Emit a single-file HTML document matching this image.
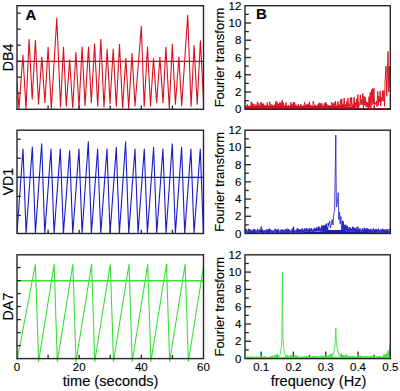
<!DOCTYPE html>
<html><head><meta charset="utf-8"><style>
html,body{margin:0;padding:0;background:#fff;width:400px;height:391px;overflow:hidden}
svg{display:block}
text{font-family:"Liberation Sans",sans-serif}
</style></head><body>
<svg width="400" height="391" viewBox="0 0 400 391">
<rect width="400" height="391" fill="#fff"/>
<clipPath id="ca1"><rect x="17" y="0" width="186.5" height="391"/></clipPath>
<g clip-path="url(#ca1)"><polyline points="17,82 19,108.4 22.9,55 26,108.4 29.1,39.2 32.2,99.3 35.4,40.6 38.5,104.2 41.8,57.1 44.9,102.8 48.1,47.3 51.3,108.4 56.8,18 60.5,107 63.5,47.3 66.3,106.3 69.6,59.8 72.7,107.7 75.9,52.2 79,107.7 82.1,47 85,105.6 88.5,47 91.3,102.8 94.6,44 97.7,106.3 100.8,39.2 104,107 107.2,49 110,103.5 113.2,49 116.3,106.3 119.5,44.4 122.6,107.7 125.8,58.2 128.7,108.4 132,53.6 135,106 141.3,26.4 144.2,106.3 147.5,47 150.5,106 153.5,58.5 156.6,102.8 159.9,57.4 163,102.8 165.9,47.3 169.3,108.4 172.3,44.2 175.4,104.2 178.9,57.1 181.7,105.6 187.7,15.1 191.1,106.3 194.1,45.6 197.2,104.2 200.4,40.9 203.5,100" fill="none" stroke="#d8101e" stroke-width="1.1" stroke-linejoin="round" /></g>
<line x1="17" y1="61.3" x2="203.5" y2="61.3" stroke="#c00c1c" stroke-width="1.3"/>
<clipPath id="ca2"><rect x="17" y="0" width="186.5" height="391"/></clipPath>
<g clip-path="url(#ca2)"><polyline points="17,233.3 23,149.1 26.1,233.3 32.33,147 35.43,233.3 41.66,143.8 44.76,233.3 50.99,149.1 54.09,233.3 60.32,149.1 63.42,233.3 69.65,150.8 72.75,233.3 78.98,149.1 82.08,233.3 88.31,141.8 91.41,233.3 97.64,149.1 100.74,233.3 106.97,149.1 110.07,233.3 116.3,147.4 119.4,233.3 125.63,141.8 128.73,233.3 134.96,149.1 138.06,233.3 144.29,149.1 147.39,233.3 153.62,147.4 156.72,233.3 162.95,149.1 166.05,233.3 172.28,143.8 175.38,233.3 181.61,147.4 184.71,233.3 190.94,149.1 194.04,233.3 200.27,149.1 203.37,233.3" fill="none" stroke="#1a1ac8" stroke-width="1.1" stroke-linejoin="round" /></g>
<line x1="17" y1="177.4" x2="203.5" y2="177.4" stroke="#1414a8" stroke-width="1.3"/>
<clipPath id="ca3"><rect x="17" y="0" width="186.5" height="391"/></clipPath>
<g clip-path="url(#ca3)"><polyline points="17,361 35.4,264.3 38.6,361.5 54.12,264.3 57.32,361.5 72.84,264.3 76.04,361.5 91.56,264.3 94.76,361.5 110.28,264.3 113.48,361.5 129,264.3 132.2,361.5 147.72,264.3 150.92,361.5 166.44,264.3 169.64,361.5 185.16,264.3 188.36,361.5 203.88,264.3 207.08,361.5" fill="none" stroke="#38e038" stroke-width="1.1" stroke-linejoin="round" /></g>
<line x1="17" y1="280.8" x2="203.5" y2="280.8" stroke="#38e038" stroke-width="1.4"/>
<g stroke="#262626" stroke-width="1.3"><line x1="245" y1="100.67" x2="248.8" y2="100.67"/><line x1="245" y1="92.03" x2="251" y2="92.03"/><line x1="245" y1="83.4" x2="248.8" y2="83.4"/><line x1="245" y1="74.77" x2="251" y2="74.77"/><line x1="245" y1="66.13" x2="248.8" y2="66.13"/><line x1="245" y1="57.5" x2="251" y2="57.5"/><line x1="245" y1="48.87" x2="248.8" y2="48.87"/><line x1="245" y1="40.23" x2="251" y2="40.23"/><line x1="245" y1="31.6" x2="248.8" y2="31.6"/><line x1="245" y1="22.97" x2="251" y2="22.97"/><line x1="245" y1="14.33" x2="248.8" y2="14.33"/><line x1="261.14" y1="109.3" x2="261.14" y2="102.3"/><line x1="277.29" y1="109.3" x2="277.29" y2="105.5"/><line x1="293.43" y1="109.3" x2="293.43" y2="102.3"/><line x1="309.58" y1="109.3" x2="309.58" y2="105.5"/><line x1="325.72" y1="109.3" x2="325.72" y2="102.3"/><line x1="341.87" y1="109.3" x2="341.87" y2="105.5"/><line x1="358.01" y1="109.3" x2="358.01" y2="102.3"/><line x1="374.16" y1="109.3" x2="374.16" y2="105.5"/><line x1="245" y1="224.89" x2="248.8" y2="224.89"/><line x1="245" y1="216.28" x2="251" y2="216.28"/><line x1="245" y1="207.68" x2="248.8" y2="207.68"/><line x1="245" y1="199.07" x2="251" y2="199.07"/><line x1="245" y1="190.46" x2="248.8" y2="190.46"/><line x1="245" y1="181.85" x2="251" y2="181.85"/><line x1="245" y1="173.24" x2="248.8" y2="173.24"/><line x1="245" y1="164.63" x2="251" y2="164.63"/><line x1="245" y1="156.02" x2="248.8" y2="156.02"/><line x1="245" y1="147.42" x2="251" y2="147.42"/><line x1="245" y1="138.81" x2="248.8" y2="138.81"/><line x1="261.14" y1="233.5" x2="261.14" y2="226.5"/><line x1="277.29" y1="233.5" x2="277.29" y2="229.7"/><line x1="293.43" y1="233.5" x2="293.43" y2="226.5"/><line x1="309.58" y1="233.5" x2="309.58" y2="229.7"/><line x1="325.72" y1="233.5" x2="325.72" y2="226.5"/><line x1="341.87" y1="233.5" x2="341.87" y2="229.7"/><line x1="358.01" y1="233.5" x2="358.01" y2="226.5"/><line x1="374.16" y1="233.5" x2="374.16" y2="229.7"/><line x1="245" y1="349.95" x2="248.8" y2="349.95"/><line x1="245" y1="341.3" x2="251" y2="341.3"/><line x1="245" y1="332.65" x2="248.8" y2="332.65"/><line x1="245" y1="324" x2="251" y2="324"/><line x1="245" y1="315.35" x2="248.8" y2="315.35"/><line x1="245" y1="306.7" x2="251" y2="306.7"/><line x1="245" y1="298.05" x2="248.8" y2="298.05"/><line x1="245" y1="289.4" x2="251" y2="289.4"/><line x1="245" y1="280.75" x2="248.8" y2="280.75"/><line x1="245" y1="272.1" x2="251" y2="272.1"/><line x1="245" y1="263.45" x2="248.8" y2="263.45"/><line x1="261.14" y1="358.6" x2="261.14" y2="351.6"/><line x1="277.29" y1="358.6" x2="277.29" y2="354.8"/><line x1="293.43" y1="358.6" x2="293.43" y2="351.6"/><line x1="309.58" y1="358.6" x2="309.58" y2="354.8"/><line x1="325.72" y1="358.6" x2="325.72" y2="351.6"/><line x1="341.87" y1="358.6" x2="341.87" y2="354.8"/><line x1="358.01" y1="358.6" x2="358.01" y2="351.6"/><line x1="374.16" y1="358.6" x2="374.16" y2="354.8"/></g>
<polygon points="245,109.3 245,105.67 246,105.67 247,105.67 248,105.67 249,105.67 250,105.67 251,105.67 252,105.67 253,105.67 254,105.67 255,105.67 256,105.67 257,105.67 258,105.67 259,105.67 260,105.67 261,105.67 262,105.67 263,105.67 264,105.67 265,105.67 266,105.67 267,105.67 268,105.67 269,105.67 270,105.67 271,105.67 272,105.67 273,105.67 274,105.67 275,105.67 276,105.67 277,105.67 278,105.67 279,105.67 280,105.67 281,105.67 282,105.67 283,105.67 284,105.67 285,105.67 286,105.67 287,105.67 288,105.67 289,105.67 290,105.67 291,105.67 292,105.67 293,105.67 294,105.67 295,105.67 296,105.67 297,105.67 298,105.67 299,105.67 300,105.67 301,105.67 302,105.67 303,105.67 304,105.67 305,105.67 306,105.67 307,105.67 308,105.67 309,105.67 310,105.67 311,105.67 312,105.67 313,105.67 314,105.67 315,105.67 316,105.67 317,105.67 318,105.67 319,105.67 320,105.67 321,105.67 322,105.67 323,105.67 324,105.67 325,105.67 326,105.67 327,105.67 328,105.67 329,105.67 330,105.67 331,105.67 332,105.67 333,105.67 334,105.67 335,105.67 336,105.67 337,105.67 338,105.67 339,105.67 340,105.67 341,105.79 342,105.91 343,106.02 344,106.14 345,106.26 346,106.37 347,106.49 348,106.61 349,106.72 350,106.84 351,106.96 352,107.07 353,107.19 354,107.31 355,107.42 356,107.54 357,107.66 358,107.77 359,107.89 360,108 361,108 362,108 363,108 364,108 365,108 366,108 367,108 368,108 369,108 370,108 371,108 372,108 373,108 374,108 375,108 376,108 377,108 378,108 379,108 380,108 381,108 382,108 383,108 384,108 385,108 386,108 387,108 388,108 389,108 390,108 390.3,109.3" fill="#d8101e"/>
<polyline points="245,106.51 245.62,108.11 246.24,105.84 246.86,107.99 247.48,104.35 248.1,109.04 248.72,107.33 249.34,107.53 249.96,106.38 250.58,108.71 251.2,101.82 251.82,108.25 252.44,102.92 253.06,108.23 253.68,104.22 254.3,104.63 254.92,104.23 255.54,107.46 256.16,104.91 256.78,107.7 257.4,101.7 258.02,108.22 258.64,103.4 259.26,105.99 259.88,106.13 260.5,109.11 261.12,102.63 261.74,108.23 262.36,103.63 262.98,107.41 263.6,103.65 264.22,107.32 264.84,105.6 265.46,107.56 266.08,105.31 266.7,107.29 267.32,102.48 267.94,108.97 268.56,106.86 269.18,105.42 269.8,101.82 270.42,108.28 271.04,104.16 271.66,108.56 272.28,104.9 272.9,107.48 273.52,105.8 274.14,107.98 274.76,104.4 275.38,107.32 276,101.04 276.62,107.27 277.24,102.54 277.86,107.14 278.48,103.81 279.1,108.83 279.72,102.48 280.34,107.19 280.96,102.15 281.58,107.99 282.2,100.05 282.82,108.73 283.44,102.65 284.06,107.98 284.68,106.09 285.3,109.03 285.92,102.47 286.54,107.11 287.16,106.98 287.78,107.5 288.4,105.38 289.02,108.85 289.64,106.02 290.26,107.56 290.88,102.28 291.5,109.07 292.12,104.08 292.74,109.07 293.36,103.36 293.98,108.47 294.6,102.18 295.22,107.11 295.84,104.76 296.46,107.06 297.08,105.9 297.7,109 298.32,104.13 298.94,108.7 299.56,106.47 300.18,108.3 300.8,104.04 301.42,108.83 302.04,107.09 302.66,107.32 303.28,105.85 303.9,107.13 304.52,101.96 305.14,108.36 305.76,104.97 306.38,108.05 307,103.76 307.62,107.89 308.24,104.32 308.86,107.83 309.48,101.57 310.1,108.07 310.72,105.12 311.34,107.61 311.96,106.22 312.58,108.51 313.2,101.24 313.82,103.88 314.44,104.35 315.06,109.13 315.68,105.19 316.3,107.9 316.92,107.1 317.54,107.82 318.16,103.76 318.78,109.03 319.4,102.79 320.02,108.14 320.64,103.41 321.26,108.39 321.88,103.2 322.5,107.55 323.12,107.08 323.74,107.86 324.36,103.4 324.98,106.29 325.6,106.08 326.22,108.16 326.84,103.96 327.46,108.45 328.08,105.43 328.7,108.47 329.32,105.4 329.94,107.84 330.56,105.72 331.18,108.28 331.8,102.14 332.42,109.08 333.04,103.54 333.66,107.31 334.28,102.45 334.9,108.55 335.52,101.06 336.14,108.48 336.76,105.7 337.38,105.55 338,101.47 338.62,108.82 339.24,104.49 339.86,108.11 340.48,99.54 341.1,107.75 341.72,98.99 342.34,108.55 342.96,103.89 343.58,106.97 344.2,98.01 344.82,107.56 345.44,104.53 346.06,108.66 346.68,101.54 347.3,108.4 347.92,98.17 348.54,106.06 349.16,104.56 349.78,108.04 350.4,97.7 351.02,106.66 351.64,97.48 352.26,107.73 352.88,104.7 353.5,107.91 354.12,97.18 354.74,107.97 355.36,102.47 355.98,107.36 356.6,98.93 357.22,107.35 357.84,94.65 358.46,108.37 359.08,105.09 359.7,105.02 360.32,94.78 360.94,104.76 361.56,99.5 362.18,104.85 362.8,93.57 363.42,108.02 364.04,96.16 364.66,105.22 365.28,97.12 365.9,106.56 366.52,101.81 367.14,107.31 367.76,102.24 368.38,108.61 369,96.69 369.62,107.42 370.24,92.22 370.86,108.68 371.48,89.72 372.1,104.95 372.72,88.57 373.34,103.58 373.96,88.35 374.58,105.35 375.2,102.98 375.82,104.12 376.44,100.92 377.06,106.87 377.68,91.29 378.3,105.22 378.92,95.95 379.54,102.11 380.16,90.92 380.78,106.12 381.4,97.2 382.02,101.28 382.64,90.4 383.26,101.04 383.88,90.82 384.5,106.22 385.12,80.85 386,66.15 386.8,96.35 388,51.48 388.8,92.04 389.4,66.15 390.2,87.72" fill="none" stroke="#d8101e" stroke-width="0.95" stroke-linejoin="round" />
<polygon points="245,233.5 245,232.32 246,232.31 247,232.31 248,232.31 249,232.31 250,232.31 251,232.3 252,232.3 253,232.3 254,232.3 255,232.3 256,232.29 257,232.29 258,232.29 259,232.29 260,232.29 261,232.29 262,232.28 263,232.28 264,232.28 265,232.28 266,232.28 267,232.27 268,232.27 269,232.27 270,232.27 271,232.27 272,232.26 273,232.26 274,232.26 275,232.26 276,232.26 277,232.25 278,232.25 279,232.25 280,232.25 281,232.25 282,232.24 283,232.24 284,232.24 285,232.24 286,232.24 287,232.23 288,232.23 289,232.23 290,232.23 291,232.23 292,232.22 293,232.22 294,232.22 295,232.22 296,232.22 297,232.21 298,232.21 299,232.21 300,232.21 301,232.18 302,232.16 303,232.14 304,232.11 305,232.09 306,232.07 307,232.04 308,232.02 309,231.99 310,231.97 311,231.95 312,231.92 313,231.9 314,231.87 315,231.85 316,231.83 317,231.8 318,231.78 319,231.69 320,231.59 321,231.5 322,231.41 323,231.32 324,231.22 325,231.13 326,230.77 327,230.42 328,230.06 329,230.06 330,230.06 331,230.06 332,230.06 333,230.06 334,230.06 335,230.06 336,230.06 337,230.06 338,230.06 339,230.06 340,230.06 341,230.06 342,230.06 343,230.06 344,230.49 345,230.92 346,231.35 347,231.42 348,231.49 349,231.56 350,231.63 351,231.71 352,231.78 353,231.85 354,231.92 355,231.99 356,232 357,232.01 358,232.02 359,232.03 360,232.04 361,232.05 362,232.06 363,232.07 364,232.08 365,232.08 366,232.09 367,232.1 368,232.11 369,232.12 370,232.13 371,232.14 372,232.15 373,232.16 374,232.17 375,232.18 376,232.19 377,232.19 378,232.2 379,232.21 380,232.22 381,232.23 382,232.24 383,232.25 384,232.26 385,232.27 386,232.28 387,232.29 388,232.3 389,232.3 390,232.31 390.3,233.5" fill="#1a1ac8"/>
<polyline points="245,229.5 245.42,232.03 245.84,229.15 246.26,231.7 246.68,229.25 247.1,231.73 247.52,231.14 247.94,232.49 248.36,228.84 248.78,232.18 249.2,228.92 249.62,233.07 250.04,229.81 250.46,232.85 250.88,229.63 251.3,232.3 251.72,231.22 252.14,232.9 252.56,230.26 252.98,231.72 253.4,229.15 253.82,232.99 254.24,229.08 254.66,233.03 255.08,229.44 255.5,233.05 255.92,231.3 256.34,231.79 256.76,230.44 257.18,232.89 257.6,228.7 258.02,231.78 258.44,230.2 258.86,231.63 259.28,229.59 259.7,232.11 260.12,230.44 260.54,231.66 260.96,229.25 261.38,231.61 261.8,228.84 262.22,232.75 262.64,229.99 263.06,232.97 263.48,230.61 263.9,233.14 264.32,230.14 264.74,232.22 265.16,231.25 265.58,232.09 266,230.03 266.42,232.72 266.84,228.95 267.26,232.43 267.68,230.08 268.1,232.43 268.52,229.17 268.94,233.16 269.36,228.62 269.78,233.21 270.2,229.06 270.62,231.79 271.04,231.11 271.46,231.89 271.88,229.93 272.3,232.25 272.72,231.17 273.14,233.17 273.56,230.44 273.98,231.59 274.4,230.39 274.82,231.94 275.24,228.66 275.66,231.61 276.08,229.96 276.5,232.63 276.92,229.51 277.34,231.9 277.76,230.68 278.18,231.94 278.6,228.91 279.02,231.75 279.44,230.98 279.86,231.59 280.28,230.73 280.7,232.65 281.12,229.29 281.54,231.64 281.96,229.94 282.38,231.62 282.8,229.43 283.22,232.7 283.64,229.99 284.06,232.93 284.48,230.76 284.9,232.98 285.32,229.09 285.74,231.48 286.16,230.45 286.58,233.16 287,228.46 287.42,232.3 287.84,229.74 288.26,232.82 288.68,229.28 289.1,231.78 289.52,229.6 289.94,232.49 290.36,230.84 290.78,231.61 291.2,230.95 291.62,232.36 292.04,228.72 292.46,233.01 292.88,228.94 293.3,231.54 293.72,229.16 294.14,231.83 294.56,230.61 294.98,232.46 295.4,230.45 295.82,231.73 296.24,229.99 296.66,232.43 297.08,228.36 297.5,231.71 297.92,228.4 298.34,232.42 298.76,229.46 299.18,231.92 299.6,229.48 300.02,232.72 300.44,229.64 300.86,232.97 301.28,229.65 301.7,231.39 302.12,228.22 302.54,232.04 302.96,229.21 303.38,232.58 303.8,230.45 304.22,232.69 304.64,228.38 305.06,231.5 305.48,229.41 305.9,231.64 306.32,228.25 306.74,231.8 307.16,228.45 307.58,231.64 308,229.23 308.42,231.73 308.84,229.44 309.26,232.17 309.68,227.97 310.1,231.71 310.52,229.28 310.94,231.13 311.36,228.14 311.78,231.91 312.2,230.5 312.62,231.96 313.04,229.28 313.46,231.66 313.88,228.5 314.3,231.31 314.72,227.88 315.14,231.32 315.56,228.76 315.98,231.66 316.4,227.48 316.82,231.2 317.24,228.64 317.66,231.14 318.08,226.94 318.5,231.44 318.92,226.34 319.34,230.66 319.76,227.49 320.18,231.69 320.6,228.74 321.02,230.76 321.44,225.54 321.86,231.7 322.28,226.09 322.7,230.9 323.12,225.68 323.54,232.52 323.96,225.21 324.38,231.16 324.8,225.39 325.22,231.57 325.64,224.72 326.06,229.97 326.48,223.63 326.9,229.82 327.32,227.17 327.74,232.08 328.16,223.03 328.5,226 329.7,221 330.5,228 331.3,224 332.2,219.6 333,225 333.8,214 334.6,210.4 335.2,175.7 335.8,135.1 336.1,176 336.4,207 337.3,203 338.2,192.7 338.8,219.6 339.5,212 340.2,224 340.9,216.5 341.6,230.5 342.02,228.19 342.44,220.72 342.86,230.79 343.28,221.19 343.7,230.05 344.12,224.92 344.54,232.39 344.96,224.84 345.38,231.11 345.8,224.7 346.22,230.18 346.64,226.44 347.06,232.06 347.48,225.66 347.9,233.09 348.32,229.01 348.74,231.56 349.16,227.02 349.58,232.75 350,227.18 350.42,230.84 350.84,228.25 351.26,232.07 351.68,229 352.1,232.46 352.52,226.83 352.94,232.29 353.36,227.1 353.78,231.14 354.2,228.29 354.62,232.64 355.04,227.52 355.46,232.16 355.88,229.02 356.3,232.53 356.72,227.57 357.14,232.18 357.56,229.47 357.98,232.22 358.4,230.1 358.82,231.92 359.24,229.03 359.66,232.61 360.08,228.17 360.5,231.52 360.92,230.73 361.34,232.13 361.76,229.62 362.18,231.33 362.6,228.25 363.02,232.72 363.44,229.68 363.86,232.91 364.28,227.84 364.7,232.63 365.12,228.76 365.54,232.28 365.96,228.69 366.38,232.03 366.8,228.48 367.22,232.99 367.64,228.47 368.06,232.64 368.48,229.05 368.9,232.58 369.32,229.73 369.74,232.21 370.16,229.28 370.58,232.54 371,228.62 371.42,232.11 371.84,230.77 372.26,232.75 372.68,229.37 373.1,231.51 373.52,228.39 373.94,232.21 374.36,230.96 374.78,231.79 375.2,229.52 375.62,232.17 376.04,228.86 376.46,232.08 376.88,229.42 377.3,231.58 377.72,229.7 378.14,232.53 378.56,228.64 378.98,232.89 379.4,229.98 379.82,231.76 380.24,230.78 380.66,231.76 381.08,229.06 381.5,232.48 381.92,230.08 382.34,231.88 382.76,228.66 383.18,233 383.6,229.62 384.02,232.3 384.44,229.6 384.86,232.68 385.28,230.56 385.7,232.25 386.12,228.98 386.54,233.14 386.96,230.36 387.38,231.87 387.8,229.07 388.22,232.14 388.64,231.14 389.06,232.05 389.48,228.77 389.9,231.6" fill="none" stroke="#1a1ac8" stroke-width="0.8" stroke-linejoin="round" />
<polygon points="245,358.6 245,357.84 246,357.84 247,357.83 248,357.82 249,357.82 250,357.81 251,357.81 252,357.8 253,357.79 254,357.79 255,357.78 256,357.78 257,357.77 258,357.76 259,357.76 260,357.75 261,357.75 262,357.74 263,357.73 264,357.73 265,357.72 266,357.72 267,357.71 268,357.7 269,357.7 270,357.69 271,357.59 272,357.49 273,357.39 274,357.29 275,357.19 276,357.09 277,357.09 278,357.09 279,357.09 280,357.09 281,357.09 282,357.09 283,357.09 284,357.09 285,357.09 286,357.09 287,357.09 288,357.09 289,357.09 290,357.09 291,357.15 292,357.21 293,357.27 294,357.33 295,357.39 296,357.45 297,357.51 298,357.57 299,357.63 300,357.69 301,357.69 302,357.68 303,357.67 304,357.67 305,357.66 306,357.66 307,357.65 308,357.64 309,357.64 310,357.63 311,357.63 312,357.62 313,357.61 314,357.61 315,357.6 316,357.59 317,357.59 318,357.58 319,357.58 320,357.57 321,357.56 322,357.56 323,357.55 324,357.55 325,357.54 326,357.39 327,357.24 328,357.09 329,356.93 330,356.78 331,356.78 332,356.78 333,356.78 334,356.78 335,356.78 336,356.78 337,356.78 338,356.78 339,356.78 340,356.78 341,356.78 342,356.78 343,356.78 344,356.89 345,357 346,357.11 347,357.22 348,357.32 349,357.43 350,357.54 351,357.54 352,357.54 353,357.54 354,357.54 355,357.54 356,357.54 357,357.54 358,357.54 359,357.54 360,357.54 361,357.54 362,357.54 363,357.54 364,357.54 365,357.54 366,357.54 367,357.54 368,357.54 369,357.54 370,357.54 371,357.54 372,357.54 373,357.54 374,357.54 375,357.54 376,357.54 377,357.54 378,357.54 379,357.54 380,357.54 381,357.41 382,357.29 383,357.16 384,357.04 385,356.91 386,356.78 387,355.88 388,354.97 389,353.76 390,353.34 390.3,358.6" fill="#38e038" opacity="0.8"/>
<polyline points="245,356.93 245.45,358.1 245.9,357.32 246.35,357.72 246.8,357.58 247.25,357.99 247.7,356.48 248.15,358.32 248.6,356.79 249.05,357.89 249.5,357.46 249.95,358.08 250.4,356.61 250.85,358.02 251.3,356.58 251.75,358.25 252.2,357.11 252.65,358.28 253.1,356.78 253.55,357.62 254,356.68 254.45,357.74 254.9,356.89 255.35,357.75 255.8,357.28 256.25,358.12 256.7,356.55 257.15,357.76 257.6,356.81 258.05,358.29 258.5,357 258.95,358.18 259.4,356.97 259.85,357.67 260.3,357.08 260.75,357.6 261.2,356.27 261.65,358.31 262.1,356.81 262.55,357.93 263,357.39 263.45,357.98 263.9,356.2 264.35,358.25 264.8,356.51 265.25,358.24 265.7,356.52 266.15,357.55 266.6,357 267.05,358.34 267.5,357.2 267.95,357.86 268.4,357.36 268.85,358.27 269.3,356.57 269.75,357.51 270.2,356.61 270.65,357.93 271.1,356.12 271.55,358.2 272,355.98 272.45,358.07 272.9,355.72 273.35,357.05 273.8,356.68 274.25,357.48 274.7,355.29 275.15,357.98 275.6,355.78 276.05,356.66 276.5,354.28 276.95,357.98 277.4,354.79 277.85,356.73 278.3,355.79 278.75,357.24 279.2,356.39 280,355 281.2,348 281.8,339.4 282.4,272.3 283,339.4 284,350 285.2,355 285.95,357.67 286.4,355.33 286.85,357.84 287.3,355.31 287.75,357.68 288.2,356.22 288.65,357.21 289.1,356.17 289.55,356.98 290,356.47 290.45,357.01 290.9,354.75 291.35,357.48 291.8,355.06 292.25,357.86 292.7,355.15 293.15,357.66 293.6,356.2 294.05,357.01 294.5,355.98 294.95,357.8 295.4,355.4 295.85,357.84 296.3,355.8 296.75,358.1 297.2,355.71 297.65,358.03 298.1,357.09 298.55,357.34 299,356.91 299.45,357.44 299.9,356 300.35,357.79 300.8,357.36 301.25,358.28 301.7,356.94 302.15,357.98 302.6,356.38 303.05,357.44 303.5,356.7 303.95,358.2 304.4,356.42 304.85,358.2 305.3,357.12 305.75,357.81 306.2,356.23 306.65,358.27 307.1,356.52 307.55,357.66 308,356.12 308.45,357.96 308.9,355.97 309.35,358.16 309.8,356.15 310.25,357.57 310.7,355.95 311.15,357.84 311.6,357.04 312.05,358.27 312.5,356.35 312.95,358.15 313.4,356.2 313.85,358.23 314.3,356.01 314.75,358.09 315.2,357.24 315.65,358.14 316.1,356.39 316.55,357.75 317,356.48 317.45,358.13 317.9,356.33 318.35,357.34 318.8,356.25 319.25,357.34 319.7,357.14 320.15,357.28 320.6,355.78 321.05,357.74 321.5,356.23 321.95,357.74 322.4,355.72 322.85,358.23 323.3,356.04 323.75,357.73 324.2,356.53 324.65,357.53 325.1,355.88 325.55,358.16 326,355.56 326.45,357.65 326.9,355.58 327.35,357.29 327.8,356.39 328.25,357.22 328.7,355.24 329.15,356.63 329.6,355.35 330.05,356.59 330.5,353.98 330.95,356.95 331.4,353.66 331.85,358.02 332.3,354.28 333,355 334.2,350 335.2,343 335.8,328.2 336.4,343 337.6,350 339.2,355.5 339.95,356.35 340.4,354.29 340.85,356.31 341.3,353.44 341.75,356.57 342.2,355.67 342.65,357.45 343.1,355.26 343.55,356.73 344,355.56 344.45,357.76 344.9,355.99 345.35,357.97 345.8,354.38 346.25,356.75 346.7,355.66 347.15,357.2 347.6,355.69 348.05,357.57 348.5,356.07 348.95,357.52 349.4,356.51 349.85,358.02 350.3,356.19 350.75,358.09 351.2,356.3 351.65,357.3 352.1,357.12 352.55,358.19 353,355.81 353.45,358.24 353.9,356.6 354.35,357.39 354.8,356.07 355.25,358.06 355.7,357.01 356.15,358.01 356.6,356.52 357.05,357.45 357.5,355.6 357.95,357.46 358.4,355.69 358.85,357.31 359.3,355.72 359.75,357.32 360.2,355.61 360.65,358.2 361.1,356.49 361.55,358.04 362,356.07 362.45,357.78 362.9,356.44 363.35,357.41 363.8,356.36 364.25,358.08 364.7,356.56 365.15,357.81 365.6,356.06 366.05,357.69 366.5,356.3 366.95,358.1 367.4,356.36 367.85,357.95 368.3,356.75 368.75,357.72 369.2,356.72 369.65,357.54 370.1,355.99 370.55,358.15 371,356.04 371.45,357.94 371.9,356.29 372.35,357.65 372.8,355.86 373.25,357.36 373.7,355.9 374.15,358.07 374.6,356.15 375.05,357.94 375.5,357.13 375.95,357.71 376.4,356.26 376.85,357.38 377.3,356.48 377.75,357.41 378.2,356.19 378.65,358.19 379.1,355.92 379.55,358 380,356.17 380.45,358.2 380.9,357.01 381.35,357.12 381.8,356.73 382.25,358.02 382.7,356.18 383.15,358.04 383.6,354.58 384.05,356.59 384.5,354.62 384.95,357.45 385.4,353.84 385.85,357.18 386.3,355.11 386.75,356.16 387.2,352.63 387.65,356.76 388.1,351.11 388.55,355.72 389,350.06 389.45,353.76 389.9,344.25" fill="none" stroke="#38e038" stroke-width="0.85" stroke-linejoin="round" />
<rect x="17" y="5.7" width="186.5" height="103.6" fill="none" stroke="#262626" stroke-width="1.4"/>
<rect x="245" y="5.7" width="145.3" height="103.6" fill="none" stroke="#262626" stroke-width="1.4"/>
<rect x="17" y="130.2" width="186.5" height="103.3" fill="none" stroke="#262626" stroke-width="1.4"/>
<rect x="245" y="130.2" width="145.3" height="103.3" fill="none" stroke="#262626" stroke-width="1.4"/>
<rect x="17" y="254.8" width="186.5" height="103.8" fill="none" stroke="#262626" stroke-width="1.4"/>
<rect x="245" y="254.8" width="145.3" height="103.8" fill="none" stroke="#262626" stroke-width="1.4"/>
<g stroke="#262626" stroke-width="1.3"><line x1="17" y1="13.2" x2="20.8" y2="13.2"/><line x1="17" y1="29.2" x2="20.8" y2="29.2"/><line x1="17" y1="45.2" x2="20.8" y2="45.2"/><line x1="17" y1="61.2" x2="20.8" y2="61.2"/><line x1="17" y1="77.2" x2="20.8" y2="77.2"/><line x1="17" y1="93.2" x2="20.8" y2="93.2"/><line x1="48.08" y1="109.3" x2="48.08" y2="105.5"/><line x1="79.17" y1="109.3" x2="79.17" y2="105.5"/><line x1="110.25" y1="109.3" x2="110.25" y2="105.5"/><line x1="141.33" y1="109.3" x2="141.33" y2="105.5"/><line x1="172.42" y1="109.3" x2="172.42" y2="105.5"/><line x1="17" y1="139.2" x2="20.8" y2="139.2"/><line x1="17" y1="158.25" x2="20.8" y2="158.25"/><line x1="17" y1="177.3" x2="20.8" y2="177.3"/><line x1="17" y1="196.35" x2="20.8" y2="196.35"/><line x1="17" y1="215.4" x2="20.8" y2="215.4"/><line x1="48.08" y1="233.5" x2="48.08" y2="229.7"/><line x1="79.17" y1="233.5" x2="79.17" y2="229.7"/><line x1="110.25" y1="233.5" x2="110.25" y2="229.7"/><line x1="141.33" y1="233.5" x2="141.33" y2="229.7"/><line x1="172.42" y1="233.5" x2="172.42" y2="229.7"/><line x1="17" y1="267.6" x2="20.8" y2="267.6"/><line x1="17" y1="280.6" x2="20.8" y2="280.6"/><line x1="17" y1="293.6" x2="20.8" y2="293.6"/><line x1="17" y1="306.6" x2="20.8" y2="306.6"/><line x1="17" y1="319.6" x2="20.8" y2="319.6"/><line x1="17" y1="332.6" x2="20.8" y2="332.6"/><line x1="17" y1="345.6" x2="20.8" y2="345.6"/><line x1="48.08" y1="358.6" x2="48.08" y2="354.8"/><line x1="79.17" y1="358.6" x2="79.17" y2="354.8"/><line x1="110.25" y1="358.6" x2="110.25" y2="354.8"/><line x1="141.33" y1="358.6" x2="141.33" y2="354.8"/><line x1="172.42" y1="358.6" x2="172.42" y2="354.8"/></g>
<g fill="#000" stroke="#000" stroke-width="0.12" font-family="Liberation Sans, sans-serif"><text x="25.4" y="19.5" font-size="15" text-anchor="start" font-weight="bold">A</text><text x="256" y="19.1" font-size="15" text-anchor="start" font-weight="bold">B</text><text x="12.6" y="57.4" font-size="14.2" text-anchor="middle" font-weight="normal" transform="rotate(-90 12.6 57.4)">DB4</text><text x="224.3" y="57.5" font-size="13" text-anchor="middle" font-weight="normal" transform="rotate(-90 224.3 57.5)">Fourier transform</text><text x="241.3" y="113.3" font-size="11.5" text-anchor="end" font-weight="normal">0</text><text x="241.3" y="96.03" font-size="11.5" text-anchor="end" font-weight="normal">2</text><text x="241.3" y="78.77" font-size="11.5" text-anchor="end" font-weight="normal">4</text><text x="241.3" y="61.5" font-size="11.5" text-anchor="end" font-weight="normal">6</text><text x="241.3" y="44.23" font-size="11.5" text-anchor="end" font-weight="normal">8</text><text x="241.3" y="26.97" font-size="11.5" text-anchor="end" font-weight="normal">10</text><text x="241.3" y="9.7" font-size="11.5" text-anchor="end" font-weight="normal">12</text><text x="12.6" y="181.75" font-size="14.2" text-anchor="middle" font-weight="normal" transform="rotate(-90 12.6 181.75)">VD1</text><text x="224.3" y="181.85" font-size="13" text-anchor="middle" font-weight="normal" transform="rotate(-90 224.3 181.85)">Fourier transform</text><text x="241.3" y="237.5" font-size="11.5" text-anchor="end" font-weight="normal">0</text><text x="241.3" y="220.28" font-size="11.5" text-anchor="end" font-weight="normal">2</text><text x="241.3" y="203.07" font-size="11.5" text-anchor="end" font-weight="normal">4</text><text x="241.3" y="185.85" font-size="11.5" text-anchor="end" font-weight="normal">6</text><text x="241.3" y="168.63" font-size="11.5" text-anchor="end" font-weight="normal">8</text><text x="241.3" y="151.42" font-size="11.5" text-anchor="end" font-weight="normal">10</text><text x="241.3" y="134.2" font-size="11.5" text-anchor="end" font-weight="normal">12</text><text x="12.6" y="306.6" font-size="14.2" text-anchor="middle" font-weight="normal" transform="rotate(-90 12.6 306.6)">DA7</text><text x="224.3" y="306.7" font-size="13" text-anchor="middle" font-weight="normal" transform="rotate(-90 224.3 306.7)">Fourier transform</text><text x="241.3" y="362.6" font-size="11.5" text-anchor="end" font-weight="normal">0</text><text x="241.3" y="345.3" font-size="11.5" text-anchor="end" font-weight="normal">2</text><text x="241.3" y="328" font-size="11.5" text-anchor="end" font-weight="normal">4</text><text x="241.3" y="310.7" font-size="11.5" text-anchor="end" font-weight="normal">6</text><text x="241.3" y="293.4" font-size="11.5" text-anchor="end" font-weight="normal">8</text><text x="241.3" y="276.1" font-size="11.5" text-anchor="end" font-weight="normal">10</text><text x="241.3" y="258.8" font-size="11.5" text-anchor="end" font-weight="normal">12</text><text x="17" y="371.4" font-size="11.5" text-anchor="middle" font-weight="normal">0</text><text x="79.17" y="371.4" font-size="11.5" text-anchor="middle" font-weight="normal">20</text><text x="141.33" y="371.4" font-size="11.5" text-anchor="middle" font-weight="normal">40</text><text x="203.5" y="371.4" font-size="11.5" text-anchor="middle" font-weight="normal">60</text><text x="261.14" y="371.4" font-size="11.5" text-anchor="middle" font-weight="normal">0.1</text><text x="293.43" y="371.4" font-size="11.5" text-anchor="middle" font-weight="normal">0.2</text><text x="325.72" y="371.4" font-size="11.5" text-anchor="middle" font-weight="normal">0.3</text><text x="358.01" y="371.4" font-size="11.5" text-anchor="middle" font-weight="normal">0.4</text><text x="390.3" y="371.4" font-size="11.5" text-anchor="middle" font-weight="normal">0.5</text><text x="110.6" y="385.8" font-size="14.6" text-anchor="middle" font-weight="normal">time (seconds)</text><text x="318.5" y="386" font-size="14.6" text-anchor="middle" font-weight="normal">frequency (Hz)</text></g>
</svg>
</body></html>
